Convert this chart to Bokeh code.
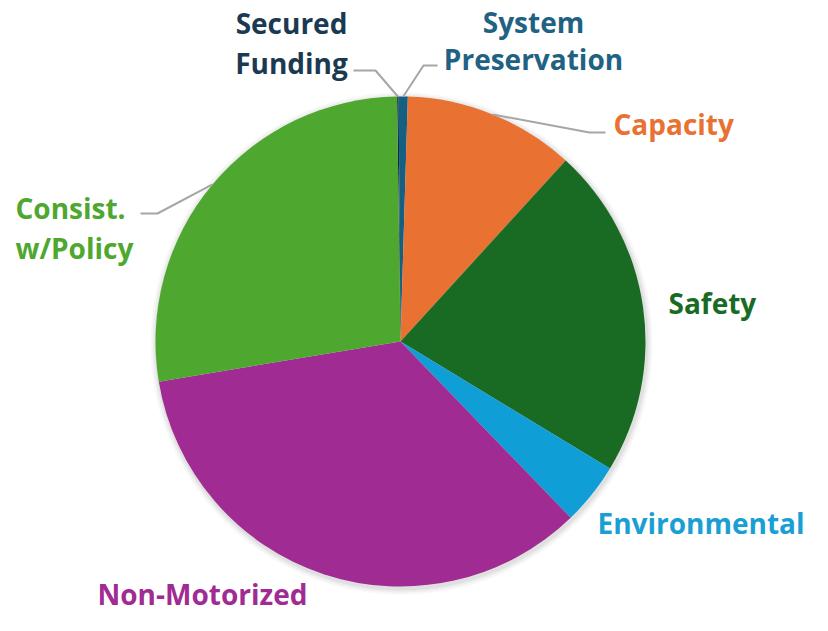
import math
from bokeh.plotting import figure
from bokeh.models import Range1d, ColumnDataSource
from bokeh.core.properties import value
from bokeh.embed import file_html
from bokeh.resources import INLINE

# ---- data ----
categories = ["Secured Funding", "System Preservation", "Capacity", "Safety",
              "Environmental", "Non-Motorized", "Consist. w/Policy"]
shares = [0.1, 0.6, 11.3, 21.9, 4.1, 34.6, 27.4]
colors = ["#0E2841", "#156082", "#E97132", "#196B24", "#0F9ED5", "#A02B93", "#4EA72E"]

W, H = 812, 615
p = figure(width=W, height=H, output_backend="svg", toolbar_location=None,
           x_range=Range1d(0, W), y_range=Range1d(631 - H, 631),
           min_border=0, outline_line_color=None)
p.axis.visible = False
p.grid.visible = False
p.background_fill_color = "white"
p.border_fill_color = "white"

cx, cy, r = 400, 631 - 341, 245
offset = -0.8  # degrees, start slightly left of 12 o'clock

total = sum(shares)
starts, ends, mids = [], [], []
acc = offset
for s in shares:
    a0 = acc
    a1 = acc + s / total * 360.0
    starts.append(math.radians(90 - a0))
    ends.append(math.radians(90 - a1))
    mids.append((a0 + a1) / 2)
    acc = a1

# soft shadow
for rr, al in [(r + 6, 0.03), (r + 4, 0.04), (r + 2, 0.05)]:
    p.circle(x=[cx + 1], y=[cy - 2], radius=rr, fill_color="#000000", fill_alpha=al,
             line_color=None)

src = ColumnDataSource(dict(start=starts, end=ends, color=colors, cat=categories))
p.wedge(x=cx, y=cy, radius=r, start_angle="start", end_angle="end",
        direction="clock", fill_color="color", line_color=None, source=src)

# leader lines (from slice edge midpoints)
def edge(i):
    a = math.radians(mids[i])
    return cx + r * math.sin(a), cy + r * math.cos(a)

lc = "#A6A6A6"
ex, ey = edge(0)
p.line([353, 375, ex], [631 - 70, 631 - 70, ey], line_color=lc, line_width=2)
ex, ey = edge(1)
p.line([437, 423, ex], [631 - 65, 631 - 65, ey], line_color=lc, line_width=2)
ex, ey = edge(2)
p.line([605, 589, ex], [631 - 132, 631 - 132, ey], line_color=lc, line_width=2)
ex, ey = edge(6)
p.line([140, 157, ex], [631 - 213, 631 - 213, ey], line_color=lc, line_width=2)

# labels
lab_text = ["Secured", "Funding", "System", "Preservation", "Capacity", "Safety",
            "Environmental", "Non-Motorized", "Consist.", "w/Policy"]
lab_x = [291, 291, 533, 533, 613, 668, 597, 97, 15, 15]
lab_y = [22, 62, 21, 58, 123, 302, 522, 593, 207, 247]
lab_align = ["center", "center", "center", "center", "left", "left", "left", "left", "left", "left"]
lab_color = ["#1B3A52", "#1B3A52", "#1F6283", "#1F6283", "#E97132", "#196B24",
             "#1A9FD4", "#A02B93", "#4EA72E", "#4EA72E"]
lsrc = ColumnDataSource(dict(x=lab_x, y=[631 - v for v in lab_y], t=lab_text,
                             a=lab_align, c=lab_color))
p.text(x="x", y="y", text="t", text_align="a", text_baseline="middle",
       text_color="c", text_font=value("Open Sans"), text_font_style="bold",
       text_font_size="28px", source=lsrc)

open("out.html", "w").write(file_html(p, INLINE))
